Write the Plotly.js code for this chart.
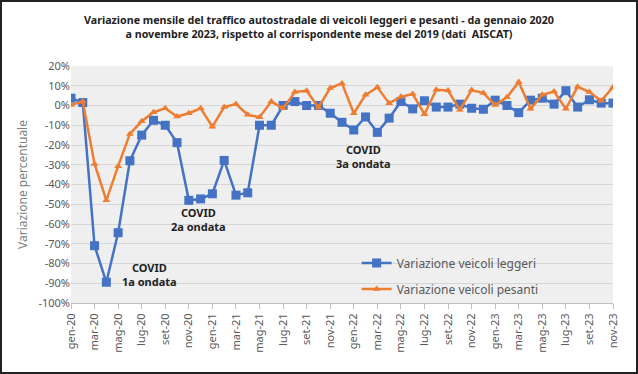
<!DOCTYPE html>
<html>
<head>
<meta charset="utf-8">
<script src="https://cdn.plot.ly/plotly-3.0.1.min.js"></script>
<style>
html,body{margin:0;padding:0;background:#fff;}
#wrap{position:relative;width:638px;height:374px;}
#chart{position:absolute;left:0;top:0;width:638px;height:374px;}
#frame{position:absolute;left:0;top:0;width:638px;height:374px;box-sizing:border-box;border:2px solid #222;pointer-events:none;}
</style>
</head>
<body>
<div id="wrap"><div id="chart"></div><div id="frame"></div></div>
<script>
const months = ["gen-20","feb-20","mar-20","apr-20","mag-20","giu-20","lug-20","ago-20","set-20","ott-20","nov-20","dic-20",
"gen-21","feb-21","mar-21","apr-21","mag-21","giu-21","lug-21","ago-21","set-21","ott-21","nov-21","dic-21",
"gen-22","feb-22","mar-22","apr-22","mag-22","giu-22","lug-22","ago-22","set-22","ott-22","nov-22","dic-22",
"gen-23","feb-23","mar-23","apr-23","mag-23","giu-23","lug-23","ago-23","set-23","ott-23","nov-23"];

const leggeri = [3.7,1.5,-71,-89.5,-64.4,-28,-15,-7.5,-10,-18.8,-48,-47.3,
-44.7,-27.8,-45.4,-44.2,-10,-10,0,2,0,0,-3.9,-8.5,
-12.4,-5.8,-13.6,-6.4,2,-1.7,2.4,-0.8,-0.8,0.7,-1.4,-1.9,
2.7,0,-3.6,2.7,3.7,0.7,7.5,-0.8,2.9,1.2,1.2];

const pesanti = [0.3,2,-29.6,-48,-30.7,-14.4,-8,-3.4,-1.4,-5.6,-3.9,-1.4,
-10.7,-0.8,0.7,-4.7,-5.9,2,-1.4,6.8,7.5,-1,8.8,11.2,
-3.9,5.4,9.2,1.2,4.4,5.8,-4.4,8,7.6,-2.2,7.8,6.3,
0.3,4.2,11.9,-1.7,5.4,7.1,-1.7,9.5,6.8,2.4,9.3];

const tickLabels = months.filter((m,i)=>i%2===0);
const yTicks = [20,10,0,-10,-20,-30,-40,-50,-60,-70,-80,-90,-100];
const yTickText = yTicks.map(v=>v+"%");

const annotations = [
  {label:"COVID<br>1a ondata", idx:6.7, val:-85.8},
  {label:"COVID<br>2a ondata", idx:10.8, val:-57.9},
  {label:"COVID<br>3a ondata", idx:24.8, val:-25.9}
];

const blue = "#4472C4", orange = "#ED7D31";
const fontFam = "'Noto Sans', 'Open Sans', sans-serif";

const traces = [
  {x:months, y:leggeri, name:"Variazione veicoli leggeri", type:"scatter", mode:"lines+markers",
   legendgroup:"a",
   line:{color:blue,width:2.5}, marker:{symbol:"square",size:9,color:blue}},
  {x:months, y:pesanti, name:"Variazione veicoli pesanti", type:"scatter", mode:"lines+markers",
   legendgroup:"b",
   line:{color:orange,width:2.5}, marker:{symbol:"triangle-up",size:7,color:orange}}
];

const layout = {
  width:638, height:374,
  margin:{l:71,r:25,t:66,b:71},
  paper_bgcolor:"#ffffff",
  plot_bgcolor:"#efefef",
  font:{family:fontFam,color:"#595959",size:11},
  title:{text:"<b>Variazione mensile del traffico autostradale di veicoli leggeri e pesanti - da gennaio 2020<br>a novembre 2023, rispetto al corrispondente mese del 2019 (dati  AISCAT)</b>",
         font:{family:fontFam,size:10.7,color:"#222"}, x:0.5, xanchor:"center", y:0.935, yanchor:"top"},
  xaxis:{type:"category", range:[0,46], tickvals:tickLabels, ticktext:tickLabels,
         tickangle:-90, ticks:"outside", ticklen:5, tickcolor:"#bfbfbf",
         showline:true, linecolor:"#bfbfbf", showgrid:false, zeroline:false,
         tickfont:{size:11,color:"#595959"}},
  yaxis:{range:[-100,20], tickvals:yTicks, ticktext:yTickText, showgrid:true, gridcolor:"#d6d6d6",
         zeroline:false, showline:false, ticks:"", ticklen:0,
         tickfont:{size:11,color:"#595959"},
         title:{text:"Variazione percentuale", font:{size:12,color:"#7f7f7f"}, standoff:8}},
  legend:{x:0.527, y:0.23, xanchor:"left", yanchor:"top", bgcolor:"rgba(0,0,0,0)",
          font:{size:12,color:"#595959"}, tracegroupgap:7},
  annotations: annotations.map(a=>({x:a.idx, y:a.val, xref:"x", yref:"y", text:"<b>"+a.label+"</b>",
     showarrow:false, font:{size:11,color:"#222"}, align:"center"})),
  showlegend:true
};

Plotly.newPlot("chart", traces, layout, {displayModeBar:false, staticPlot:true});
</script>
</body>
</html>
